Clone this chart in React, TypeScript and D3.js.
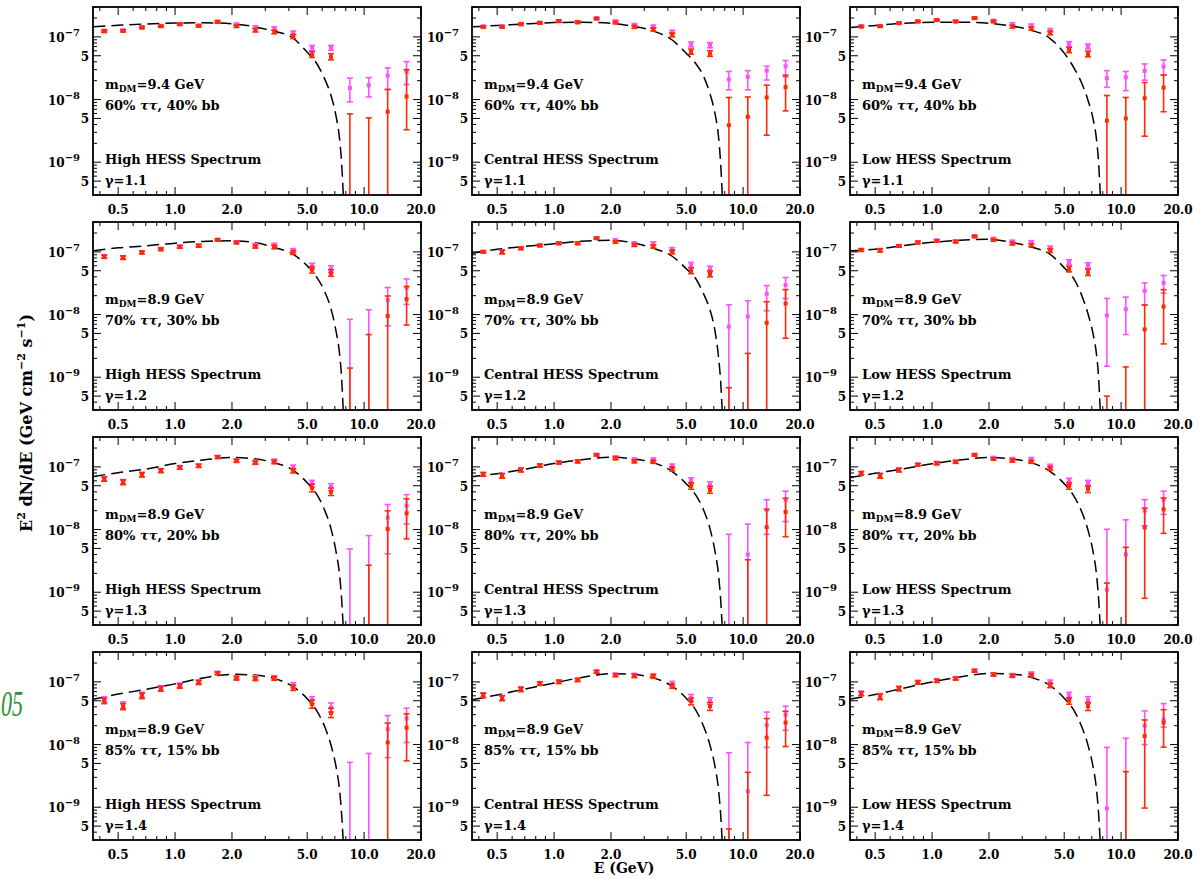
import React from 'react';
import * as d3 from 'd3';

// ---------------- DATA (flux in units of 1e-8 GeV cm^-2 s^-1) ----------------
const ENERGIES = [0.422, 0.531, 0.668, 0.841, 1.059, 1.333, 1.678, 2.113, 2.66, 3.349, 4.216, 5.307, 6.681, 8.411, 10.59, 13.33, 16.78];
const X_TICKS = [0.5, 1, 2, 5, 10, 20];
const X_TICK_LABELS = ['0.5', '1.0', '2.0', '5.0', '10.0', '20.0'];
const Y_DECADES = [1e-9, 1e-8, 1e-7];
const Y_DECADE_EXP = ['−9', '−8', '−7'];
const Y_FIVES = [5e-10, 5e-9, 5e-8];

const SPECTRA = ['High', 'Central', 'Low'];
const GAMMAS = ['1.1', '1.2', '1.3', '1.4'];
const MASSES = ['9.4', '8.9', '8.9', '8.9'];
const TAU_FRAC = ['60', '70', '80', '85'];
const BB_FRAC = ['40', '30', '20', '15'];

// each point: [centre, low, high]; centre 0 = no marker, low 0 = bar runs to the bottom
const RED_HIGH_11 = [[12.3,11.8,12.8],[12.5,12.0,13.0],[14.1,13.6,14.6],[14.8,14.3,15.3],[15.9,15.3,16.5],[15.0,14.4,15.6],[17.3,16.6,18.0],[14.8,14.2,15.4],[12.8,12.0,13.6],[12.0,11.2,12.8],[10.2,9.4,11.0],[5.2,4.7,5.8],[4.8,4.3,5.4],[0,0,0.59],[0,0,0.51],[0.64,0,1.45],[1.12,0.33,3.0]];
const MAG_HIGH_11 = [[12.6,12.1,13.1],[12.7,12.2,13.2],[14.3,13.8,14.8],[15.0,14.5,15.5],[16.1,15.5,16.7],[15.2,14.6,15.8],[17.6,16.9,18.3],[15.9,15.3,16.5],[14.3,13.6,15.0],[13.6,12.8,14.4],[11.6,10.8,12.4],[6.7,6.1,7.3],[6.7,6.1,7.3],[1.53,0.92,2.2],[1.69,1.1,2.24],[2.42,1.45,3.2],[2.8,1.74,4.04]];
const RED_CENTRAL_11 = [[14.5,14.0,15.0],[14.5,13.9,15.1],[15.9,15.3,16.5],[16.7,16.1,17.3],[17.8,17.1,18.5],[17.1,16.4,17.8],[19.6,18.9,20.3],[16.9,16.2,17.6],[14.5,13.7,15.3],[13.2,12.4,14.0],[10.8,10.0,11.6],[5.8,5.3,6.4],[5.4,4.9,6.0],[0.39,0,1.08],[0.53,0,1.1],[1.08,0.27,1.7],[1.58,0.66,2.45]];
const MAG_CENTRAL_11 = [[14.7,14.2,15.2],[14.7,14.1,15.3],[16.1,15.5,16.7],[16.9,16.3,17.5],[18.0,17.3,18.7],[17.3,16.6,18.0],[19.8,19.1,20.5],[17.8,17.1,18.5],[15.5,14.7,16.3],[14.6,13.8,15.4],[12.0,11.2,12.8],[7.6,6.9,8.3],[7.4,6.7,8.1],[2.1,1.43,2.8],[2.3,1.43,2.9],[2.9,2.05,3.4],[3.4,2.3,4.2]];
const RED_LOW_11 = [[14.6,14.1,15.1],[14.8,14.3,15.3],[16.5,16.0,17.0],[17.6,17.0,18.2],[18.5,17.9,19.1],[17.6,17.0,18.2],[19.9,19.2,20.6],[17.6,17.0,18.2],[14.6,13.9,15.3],[13.7,12.9,14.5],[11.6,10.8,12.4],[6.2,5.6,6.8],[5.3,4.8,5.9],[0.46,0,1.16],[0.5,0,1.08],[1.05,0.26,1.87],[1.55,0.64,2.47]];
const MAG_LOW_11 = [[14.8,14.3,15.3],[15.0,14.5,15.5],[16.7,16.2,17.2],[17.8,17.2,18.4],[18.7,18.1,19.3],[17.8,17.2,18.4],[20.1,19.4,20.8],[18.2,17.6,18.8],[16.1,15.4,16.8],[15.2,14.4,16.0],[12.8,12.0,13.6],[7.7,7.0,8.4],[7.0,6.4,7.7],[2.19,1.57,2.9],[2.27,1.39,2.8],[2.87,2.04,3.7],[3.36,2.47,4.3]];

const RED_HIGH_12 = [[8.4,7.9,8.9],[8.1,7.6,8.6],[9.8,9.3,10.3],[11.0,10.5,11.5],[12.0,11.4,12.6],[12.5,11.9,13.1],[15.5,14.9,16.1],[14.1,13.5,14.7],[12.2,11.5,12.9],[12.0,11.2,12.8],[9.8,9.1,10.5],[5.2,4.6,5.8],[4.6,4.1,5.2],[0,0,0.14],[0,0,0.48],[0.95,0,1.98],[1.76,0.68,2.8]];
const MAG_HIGH_12 = [[8.5,8.0,9.0],[8.2,7.7,8.7],[9.9,9.4,10.4],[11.2,10.7,11.7],[12.2,11.6,12.8],[12.7,12.1,13.3],[15.7,15.1,16.3],[14.4,13.8,15.0],[13.0,12.3,13.7],[13.0,12.3,13.7],[10.6,9.9,11.3],[6.0,5.4,6.6],[5.3,4.7,6.0],[0,0,0.84],[0,0,1.19],[1.7,0.66,2.7],[2.7,1.45,3.7]];
const RED_CENTRAL_12 = [[10.0,9.6,10.4],[10.0,9.3,10.7],[11.4,10.9,11.9],[12.6,12.1,13.1],[13.7,13.1,14.3],[13.7,13.1,14.3],[16.5,15.9,17.1],[14.4,13.8,15.0],[12.9,12.2,13.6],[12.2,11.5,12.9],[10.0,9.3,10.7],[5.0,4.5,5.6],[4.45,4.0,5.0],[0,0,0.068],[0,0,0.24],[0.74,0,1.6],[1.5,0.42,2.5]];
const MAG_CENTRAL_12 = [[10.1,9.7,10.5],[10.1,9.4,10.8],[11.5,11.0,12.0],[12.8,12.3,13.3],[13.9,13.3,14.5],[13.9,13.3,14.5],[16.7,16.1,17.3],[15.5,14.9,16.1],[13.7,13.0,14.4],[13.7,13.0,14.4],[11.0,10.3,11.7],[6.2,5.6,6.8],[5.3,4.8,5.9],[0.64,0,1.43],[0.93,0,1.66],[2.14,1.15,2.9],[2.95,1.8,3.9]];
const RED_LOW_12 = [[10.7,10.2,11.2],[10.6,10.0,11.2],[12.4,11.9,12.9],[14.1,13.5,14.7],[15.0,14.4,15.6],[14.6,14.0,15.2],[17.6,17.0,18.2],[15.5,14.9,16.1],[13.6,12.9,14.3],[12.8,12.1,13.5],[10.6,9.8,11.3],[5.3,4.8,5.9],[4.7,4.2,5.3],[0,0,0.05],[0,0,0.146],[0.58,0,1.42],[1.34,0.34,2.5]];
const MAG_LOW_12 = [[10.8,10.3,11.3],[10.7,10.1,11.3],[12.5,12.0,13.0],[14.3,13.7,14.9],[15.2,14.6,15.8],[14.8,14.2,15.4],[17.8,17.2,18.4],[16.3,15.7,16.9],[14.6,13.9,15.3],[14.4,13.7,15.1],[11.7,11.0,12.4],[6.8,6.2,7.5],[6.1,5.5,6.7],[0.97,0.15,1.81],[1.22,0.48,1.9],[2.4,1.42,3.2],[3.2,2.2,4.2]];

const RED_HIGH_13 = [[6.4,5.9,6.9],[5.7,5.2,6.2],[7.5,6.9,8.1],[8.7,8.1,9.3],[9.8,9.2,10.4],[10.4,9.8,11.0],[14.3,13.6,15.0],[12.5,11.8,13.2],[11.7,11.0,12.4],[12.0,11.2,12.8],[8.7,8.0,9.4],[4.6,4.0,5.3],[4.0,3.5,4.6],null,[0,0,0.27],[1.02,0,1.99],[1.82,0.71,3.1]];
const MAG_HIGH_13 = [[6.5,6.0,7.0],[5.8,5.3,6.3],[7.6,7.0,8.2],[8.8,8.2,9.4],[9.9,9.3,10.5],[10.5,9.9,11.1],[14.5,13.8,15.2],[12.8,12.1,13.5],[12.0,11.2,12.8],[12.5,11.8,13.3],[9.9,9.1,10.7],[5.5,4.8,6.1],[4.8,4.2,5.4],[0,0,0.49],[0,0,0.8],[1.55,0.41,2.5],[2.4,1.23,3.6]];
const RED_CENTRAL_13 = [[7.6,7.1,8.1],[7.2,6.6,7.8],[8.9,8.3,9.5],[10.5,9.9,11.1],[11.7,11.1,12.3],[12.2,11.6,12.8],[15.5,14.9,16.1],[13.7,13.0,14.4],[12.3,11.6,13.0],[12.1,11.4,12.8],[9.3,8.6,10.0],[5.0,4.4,5.6],[4.3,3.8,4.9],null,[0,0,0.33],[1.09,0,2.1],[1.91,0.77,3.16]];
const MAG_CENTRAL_13 = [[7.7,7.2,8.2],[7.3,6.7,7.9],[9.0,8.4,9.6],[10.6,10.0,11.2],[11.9,11.3,12.5],[12.4,11.8,13.0],[15.7,15.1,16.3],[14.3,13.6,15.0],[13.1,12.4,13.8],[13.1,12.4,13.8],[10.3,9.5,11.1],[6.05,5.4,6.7],[5.15,4.6,5.8],[0,0,0.84],[0.4,0,1.22],[2.06,0.84,3.0],[3.0,1.34,4.1]];
const RED_LOW_13 = [[7.9,7.4,8.4],[7.2,6.6,7.8],[8.9,8.3,9.5],[10.8,10.3,11.3],[11.4,10.8,12.0],[12.0,11.4,12.6],[15.5,14.9,16.1],[13.4,12.8,14.0],[12.6,11.9,13.3],[12.1,11.4,12.8],[9.5,8.8,10.2],[5.0,4.4,5.6],[4.45,3.9,5.0],[0,0,0.14],[0,0,0.52],[1.08,0.08,2.2],[2.1,0.87,3.2]];
const MAG_LOW_13 = [[8.0,7.5,8.5],[7.3,6.7,7.9],[9.0,8.4,9.6],[10.9,10.4,11.4],[11.6,11.0,12.2],[12.2,11.6,12.8],[15.7,15.1,16.3],[14.0,13.4,14.6],[13.4,12.7,14.1],[13.4,12.7,14.1],[10.3,9.6,11.0],[6.0,5.3,6.6],[5.5,4.9,6.1],[0.11,0,1.01],[0.4,0,1.43],[2.0,1.15,3.0],[3.0,1.75,4.1]];

const RED_HIGH_14 = [[5.0,4.5,5.5],[4.0,3.6,4.5],[6.0,5.4,6.6],[7.8,7.1,8.5],[8.6,7.9,9.3],[9.8,9.1,10.5],[13.7,13.0,14.4],[11.4,10.7,12.1],[11.3,10.5,12.1],[11.4,10.6,12.2],[8.1,7.3,8.9],[4.4,3.8,5.1],[3.2,2.7,3.8],null,null,[1.08,0,2.2],[1.86,0.55,3.1]];
const MAG_HIGH_14 = [[5.3,4.8,5.8],[4.3,3.8,4.8],[6.3,5.7,6.9],[8.0,7.3,8.7],[8.9,8.2,9.6],[10.1,9.4,10.8],[14.0,13.3,14.7],[11.8,11.1,12.5],[11.7,10.9,12.5],[11.8,11.0,12.6],[8.9,8.1,9.7],[5.2,4.5,5.8],[3.9,3.3,4.6],[0,0,0.52],[0,0,0.72],[1.76,0.62,2.9],[2.6,1.08,3.8]];
const RED_CENTRAL_14 = [[6.1,5.6,6.6],[5.5,5.0,6.0],[7.6,7.0,8.2],[9.4,8.8,10.0],[10.0,9.4,10.6],[10.7,10.1,11.3],[14.5,13.8,15.2],[12.8,12.1,13.5],[12.5,11.7,13.3],[12.2,11.4,13.0],[8.6,7.9,9.3],[4.9,4.3,5.5],[4.1,3.5,4.7],[0,0,0.045],[0,0,0.36],[1.29,0.155,2.6],[2.24,0.93,3.4]];
const MAG_CENTRAL_14 = [[6.2,5.7,6.7],[5.6,5.1,6.1],[7.7,7.1,8.3],[9.5,8.9,10.1],[10.2,9.6,10.8],[10.9,10.3,11.5],[14.7,14.0,15.4],[13.1,12.4,13.8],[12.9,12.1,13.7],[12.7,11.9,13.5],[9.4,8.6,10.2],[5.6,4.9,6.3],[5.0,4.4,5.6],[0,0,0.74],[0.18,0,1.08],[2.04,0.9,3.3],[3.0,1.69,4.1]];
const RED_LOW_14 = [[6.5,6.0,7.0],[5.8,5.2,6.4],[7.8,7.2,8.4],[9.8,9.2,10.4],[10.4,9.8,11.0],[11.3,10.7,11.9],[15.0,14.3,15.7],[13.1,12.4,13.8],[12.5,11.8,13.2],[12.8,12.0,13.6],[8.85,8.1,9.6],[5.0,4.4,5.6],[4.1,3.5,4.7],null,[0,0,0.37],[1.37,0.097,2.47],[2.24,0.91,3.6]];
const MAG_LOW_14 = [[6.6,6.1,7.1],[5.9,5.3,6.5],[7.9,7.3,8.5],[10.0,9.4,10.6],[10.6,10.0,11.2],[11.5,10.9,12.1],[15.2,14.5,15.9],[13.3,12.6,14.0],[12.9,12.2,13.6],[13.6,12.8,14.4],[10.0,9.3,10.7],[6.1,5.4,6.8],[5.1,4.5,5.8],[0.096,0,0.9],[0,0,1.26],[2.0,1.0,3.44],[2.5,1.9,4.5]];

// dark-matter model curves
const CURVE_E = [0.37, 0.5, 0.7, 1.0, 1.4, 2.0, 2.6, 3.3, 4.2, 5.0, 5.6, 6.2, 6.7, 7.1, 7.4, 7.6, 7.8];
const CURVE_HIGH_11 = [14.5,15.3,16.1,16.6,16.8,16.2,14.6,12.4,9.6,5.7,3.8,2.1,1.13,0.55,0.25,0.1,0.022];
const CURVE_CENTRAL_11 = [14.5,15.2,16.1,16.9,17.1,16.5,14.8,12.6,9.0,5.5,3.8,2.3,1.2,0.6,0.27,0.1,0.022];
const CURVE_LOW_11 = [14.1,15.2,16.5,17.1,17.2,16.5,15.0,12.9,9.5,5.5,3.3,1.8,0.95,0.5,0.24,0.1,0.022];
const CURVE_HIGH_12 = [10.4,11.6,12.5,13.8,14.7,15.0,14.2,11.9,9.2,6.0,4.0,2.3,1.2,0.55,0.25,0.1,0.02];
const CURVE_CENTRAL_12 = [9.5,11.0,12.2,13.5,14.8,15.3,14.0,11.6,8.6,5.4,3.8,2.1,1.15,0.55,0.22,0.09,0.02];
const CURVE_LOW_12 = [10.4,11.0,12.6,14.2,15.3,15.9,14.3,12.1,9.2,5.6,3.8,2.0,1.0,0.5,0.24,0.1,0.02];
const CURVE_HIGH_13 = [7.0,8.1,9.2,11.3,12.9,14.1,13.5,11.8,8.9,5.6,3.7,2.0,1.0,0.45,0.2,0.08,0.02];
const CURVE_CENTRAL_13 = [7.0,7.8,9.2,11.3,13.0,14.3,13.4,11.8,8.5,5.4,3.6,2.0,1.0,0.45,0.2,0.08,0.02];
const CURVE_LOW_13 = [6.8,7.9,9.3,11.2,12.9,14.1,13.4,11.8,8.5,5.4,3.5,1.9,0.95,0.45,0.2,0.08,0.02];
const CURVE_HIGH_14 = [5.3,6.4,7.6,9.3,11.5,13.2,12.9,11.5,8.4,5.4,3.5,1.9,0.95,0.45,0.2,0.08,0.02];
const CURVE_CENTRAL_14 = [5.2,6.2,7.7,9.6,11.8,13.5,13.2,11.7,8.6,5.5,3.6,1.9,0.95,0.45,0.2,0.08,0.02];
const CURVE_LOW_14 = [5.3,6.3,7.9,10.0,12.0,13.6,13.3,11.9,8.8,5.5,3.6,1.9,0.95,0.45,0.2,0.08,0.02];

const RED_SETS = [
  [RED_HIGH_11, RED_CENTRAL_11, RED_LOW_11],
  [RED_HIGH_12, RED_CENTRAL_12, RED_LOW_12],
  [RED_HIGH_13, RED_CENTRAL_13, RED_LOW_13],
  [RED_HIGH_14, RED_CENTRAL_14, RED_LOW_14],
];
const MAG_SETS = [
  [MAG_HIGH_11, MAG_CENTRAL_11, MAG_LOW_11],
  [MAG_HIGH_12, MAG_CENTRAL_12, MAG_LOW_12],
  [MAG_HIGH_13, MAG_CENTRAL_13, MAG_LOW_13],
  [MAG_HIGH_14, MAG_CENTRAL_14, MAG_LOW_14],
];
const CURVE_SETS = [
  [CURVE_HIGH_11, CURVE_CENTRAL_11, CURVE_LOW_11],
  [CURVE_HIGH_12, CURVE_CENTRAL_12, CURVE_LOW_12],
  [CURVE_HIGH_13, CURVE_CENTRAL_13, CURVE_LOW_13],
  [CURVE_HIGH_14, CURVE_CENTRAL_14, CURVE_LOW_14],
];

// ---------------- LAYOUT ----------------
const PANEL_LEFTS = [93, 472, 850];
const PANEL_TOPS = [7, 222, 437, 652];
const PW = 328;
const PH = 188;
const UNIT = 1e-8;
const FONT = "'DejaVu Serif', serif";
const RED = '#ff2a00';
const MAGENTA = '#ff50ff';

const x = d3.scaleLog().domain([0.368, 20]).range([0, PW]);
const y = d3.scaleLog().domain([3e-10, 3e-7]).range([PH, 0]);

const X_MINOR: number[] = [];
[0.1, 1, 10].forEach((dec) => {
  for (let k = 1; k <= 9; k++) {
    const v = +(dec * k).toPrecision(3);
    if (v >= 0.368 && v <= 20) X_MINOR.push(v);
  }
});
X_MINOR.push(20);
const Y_MINOR: number[] = [];
[1e-10, 1e-9, 1e-8, 1e-7].forEach((dec) => {
  for (let k = 1; k <= 9; k++) {
    const v = dec * k;
    if (v >= 3e-10 && v <= 3e-7) Y_MINOR.push(v);
  }
});
const isMajorX = (v: number) => X_TICKS.some((t) => Math.abs(t - v) / t < 1e-6);
const isMajorY = (v: number) => {
  const m = v / Math.pow(10, Math.floor(Math.log10(v) + 1e-9));
  return Math.abs(m - 1) < 1e-6 || Math.abs(m - 5) < 1e-6;
};

type Pt = number[] | null;

function ErrorBars({ data, color }: { data: Pt[]; color: string }) {
  return (
    <g>
      {data.map((p, i) => {
        if (!p) return null;
        const [c, lo, hi] = p;
        const px = x(ENERGIES[i]);
        const yTop = y(hi * UNIT);
        if (yTop >= PH) return null;
        const yBot = lo > 0 ? Math.min(PH, y(lo * UNIT)) : PH;
        const yT = Math.max(0, yTop);
        return (
          <g key={i} stroke={color} strokeWidth={1.6}>
            <line x1={px} x2={px} y1={yT} y2={yBot} />
            {yTop >= 0 && <line x1={px - 3} x2={px + 3} y1={yTop} y2={yTop} />}
            {lo > 0 && y(lo * UNIT) <= PH && <line x1={px - 3} x2={px + 3} y1={yBot} y2={yBot} />}
            {c > 0 && y(c * UNIT) <= PH && (
              <rect x={px - 2} y={y(c * UNIT) - 2} width={4} height={4} fill={color} stroke="none" />
            )}
          </g>
        );
      })}
    </g>
  );
}

function Panel({ row, col }: { row: number; col: number }) {
  const left = PANEL_LEFTS[col];
  const top = PANEL_TOPS[row];
  const clipId = `clip-${row}-${col}`;
  const curve = CURVE_SETS[row][col];
  const line = d3
    .line<number>()
    .x((_, i) => x(CURVE_E[i]))
    .y((v) => y(v * UNIT))
    .curve(d3.curveMonotoneX);
  const tx = 12;
  return (
    <g transform={`translate(${left},${top})`}>
      <defs>
        <clipPath id={clipId}>
          <rect x={0} y={0} width={PW} height={PH} />
        </clipPath>
      </defs>
      <g clipPath={`url(#${clipId})`}>
        <path d={line(curve) || ''} fill="none" stroke="#000" strokeWidth={1.5} strokeDasharray="12,6" />
        <ErrorBars data={MAG_SETS[row][col]} color={MAGENTA} />
        <ErrorBars data={RED_SETS[row][col]} color={RED} />
      </g>
      {/* ticks */}
      <g stroke="#000" strokeWidth={1}>
        {X_MINOR.map((v, i) => {
          const len = isMajorX(v) ? 8 : 4;
          const px = x(v);
          return (
            <g key={'x' + i}>
              <line x1={px} x2={px} y1={PH} y2={PH - len} />
              <line x1={px} x2={px} y1={0} y2={len} />
            </g>
          );
        })}
        {Y_MINOR.map((v, i) => {
          const len = isMajorY(v) ? 8 : 4;
          const py = y(v);
          return (
            <g key={'y' + i}>
              <line x1={0} x2={len} y1={py} y2={py} />
              <line x1={PW} x2={PW - len} y1={py} y2={py} />
            </g>
          );
        })}
      </g>
      <rect x={0} y={0} width={PW} height={PH} fill="none" stroke="#000" strokeWidth={1.8} />
      {/* tick labels */}
      <g fontFamily={FONT} fontWeight="bold" fontSize={12} fill="#000">
        {X_TICKS.map((v, i) => (
          <text key={i} x={x(v)} y={PH + 19} textAnchor="middle">
            {X_TICK_LABELS[i]}
          </text>
        ))}
        {Y_DECADES.map((v, i) => (
          <text key={'d' + i} x={-13} y={y(v) + 5} textAnchor="end">
            10<tspan dy={-6} fontSize={10}>{Y_DECADE_EXP[i]}</tspan>
          </text>
        ))}
        {Y_FIVES.map((v, i) => (
          <text key={'f' + i} x={-4} y={y(v) + 5} textAnchor="end">
            5
          </text>
        ))}
      </g>
      {/* annotations */}
      <g fontFamily={FONT} fontWeight="bold" fontSize={13} fill="#000">
        <text x={tx} y={82}>
          m<tspan fontSize={9} dy={3}>DM</tspan>
          <tspan dy={-3}>={MASSES[row]} GeV</tspan>
        </text>
        <text x={tx} y={103}>
          {TAU_FRAC[row]}% <tspan fontStyle="italic">ττ</tspan>, {BB_FRAC[row]}% bb
        </text>
        <text x={tx} y={157}>{SPECTRA[col]} HESS Spectrum</text>
        <text x={tx} y={178}>γ={GAMMAS[row]}</text>
      </g>
    </g>
  );
}

export default function App() {
  const rows = [0, 1, 2, 3];
  const cols = [0, 1, 2];
  return (
    <svg
      width={1203}
      height={879}
      style={{ position: 'absolute', left: 0, top: 0, background: '#fff' }}
      xmlns="http://www.w3.org/2000/svg"
    >
      <rect x={0} y={0} width={1203} height={879} fill="#fff" />
      {rows.map((r) => cols.map((c) => <Panel key={`${r}-${c}`} row={r} col={c} />))}
      <text
        transform="translate(32,423) rotate(-90)"
        textAnchor="middle"
        fontFamily={FONT}
        fontWeight="bold"
        fontSize={16}
      >
        E<tspan dy={-7} fontSize={11}>2</tspan>
        <tspan dy={7}> dN/dE (GeV cm</tspan>
        <tspan dy={-7} fontSize={11}>−2</tspan>
        <tspan dy={7}> s</tspan>
        <tspan dy={-7} fontSize={11}>−1</tspan>
        <tspan dy={7}>)</tspan>
      </text>
      <text x={624} y={873} textAnchor="middle" fontFamily={FONT} fontWeight="bold" fontSize={14}>
        E (GeV)
      </text>
      <text
        x={1}
        y={716}
        textLength={22}
        lengthAdjust="spacingAndGlyphs"
        fontFamily="'Liberation Serif', serif"
        fontStyle="italic"
        fontSize={36}
        fill="#2a922a"
      >
        05
      </text>
    </svg>
  );
}
